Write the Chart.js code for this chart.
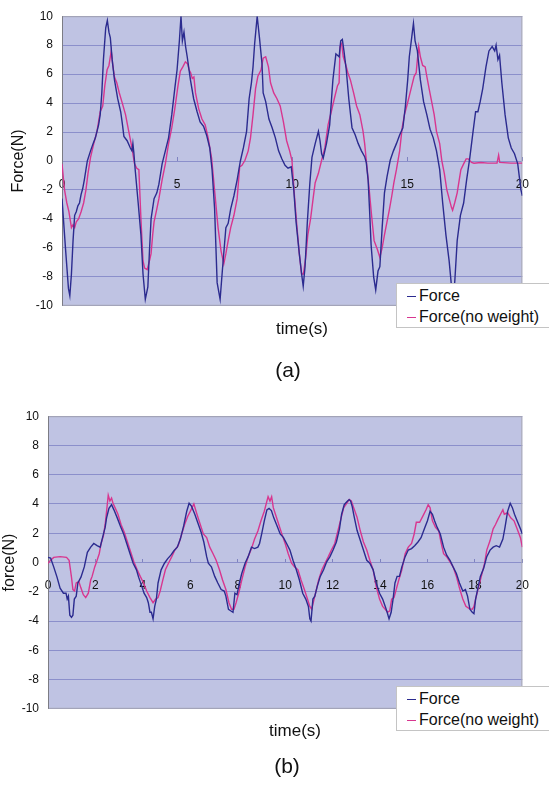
<!DOCTYPE html>
<html>
<head>
<meta charset="utf-8">
<script src="https://cdn.jsdelivr.net/npm/chart.js@4/dist/chart.umd.min.js"></script>
<style>
  body { margin: 0; background: #fff; width: 549px; height: 785px; position: relative; overflow: hidden;
         font-family: "Liberation Sans", Arial, sans-serif; color: #111; }
  canvas { position: absolute; left: 0; }
  #ca { top: 0; }
  #cb { top: 400px; }
  .legend { position: absolute; left: 396px; width: 152px; background: #fff; border: 1px solid #c4c4c4;
            font-size: 16px; padding-top: 1px; }
  .legend div { height: 21px; line-height: 21px; white-space: nowrap; }
  .legend span { display: inline-block; width: 9px; height: 0; border-top: 1.5px solid; vertical-align: middle;
                 margin: 0 3px 0 10px; }
  .lbl { position: absolute; transform: translate(-50%, -50%); white-space: nowrap; }
</style>
</head>
<body>
<canvas id="ca" width="549" height="322"></canvas>
<canvas id="cb" width="549" height="325"></canvas>

<div class="legend" style="top:283px">
  <div><span style="border-color:#2b2b8f"></span>Force</div>
  <div><span style="border-color:#d8368f"></span>Force(no weight)</div>
</div>
<div class="legend" style="top:686px">
  <div><span style="border-color:#2b2b8f"></span>Force</div>
  <div><span style="border-color:#d8368f"></span>Force(no weight)</div>
</div>

<div class="lbl" style="left:302px;top:329px;font-size:17px">time(s)</div>
<div class="lbl" style="left:288px;top:370px;font-size:21px">(a)</div>
<div class="lbl" style="left:295px;top:731px;font-size:17px">time(s)</div>
<div class="lbl" style="left:287px;top:766px;font-size:21px">(b)</div>

<script>
// (a) time (s), force (N)
const aForce = [[0,-2.6],[0.15,-6.0],[0.28,-8.8],[0.34,-9.3],[0.41,-7.8],[0.48,-5.5],[0.55,-3.75],[0.62,-3.5],
  [0.69,-3.1],[0.76,-2.9],[0.83,-2.3],[0.9,-1.9],[0.97,-1.3],[1.1,0],[1.24,0.7],[1.35,1.2],[1.45,1.6],[1.59,2.5],
  [1.66,3.2],[1.73,4.7],[1.8,7.0],[1.9,9.2],[1.97,9.7],[2.04,8.9],[2.1,8.5],[2.18,7.0],[2.28,5.6],[2.42,4.3],
  [2.55,3.4],[2.62,2.6],[2.69,1.7],[2.83,1.4],[2.97,0.9],[3.04,0.7],[3.08,1.2],[3.12,0.6],[3.18,-0.6],[3.31,-2.9],
  [3.43,-5.1],[3.52,-7.8],[3.62,-9.55],[3.73,-8.7],[3.8,-6.2],[3.87,-4.0],[4.0,-2.6],[4.12,-2.2],[4.21,-1.6],
  [4.35,-0.2],[4.49,0.7],[4.63,1.6],[4.77,3.2],[4.9,5.0],[5.0,6.3],[5.1,8.3],[5.17,10],[5.23,8.3],[5.3,8.9],
  [5.37,7.9],[5.44,7.2],[5.58,5.6],[5.72,4.3],[5.87,3.4],[6.0,2.7],[6.15,2.4],[6.28,1.8],[6.42,0.9],[6.52,-0.6],
  [6.63,-3.3],[6.74,-8.4],[6.87,-9.55],[6.98,-7.3],[7.12,-4.6],[7.22,-4.3],[7.33,-3.3],[7.47,-2.4],[7.61,-1.3],
  [7.75,0],[7.88,0.9],[8.02,2.05],[8.13,4.3],[8.23,5.4],[8.3,6.5],[8.37,8.1],[8.48,10],[8.58,8.5],[8.69,6.7],
  [8.74,4.7],[8.85,4.1],[8.99,2.9],[9.13,2.3],[9.27,1.6],[9.41,0.7],[9.55,0.15],[9.69,-0.3],[9.82,-0.5],[9.96,-0.4],
  [10.07,-2.0],[10.17,-4.2],[10.31,-6.4],[10.41,-7.8],[10.48,-8.65],[10.56,-7.3],[10.66,-4.2],[10.77,-1.5],
  [10.86,0.25],[11.0,1.2],[11.14,2.05],[11.21,1.4],[11.28,0.5],[11.35,0.2],[11.49,1.2],[11.63,2.5],[11.77,5.6],
  [11.9,7.4],[12.04,7.2],[12.11,8.3],[12.18,8.4],[12.25,7.6],[12.35,6.3],[12.46,4.3],[12.6,2.3],[12.74,1.8],
  [12.87,1.2],[13.01,0.7],[13.15,0.3],[13.22,-0.1],[13.3,-1.3],[13.36,-3.3],[13.43,-5.8],[13.54,-8.0],[13.63,-8.9],
  [13.73,-7.6],[13.81,-7.3],[13.91,-4.6],[14.01,-2.2],[14.12,-1.1],[14.26,0.05],[14.4,0.7],[14.53,1.2],[14.67,1.8],
  [14.81,2.3],[14.92,3.8],[15.02,5.6],[15.09,7.2],[15.16,8.1],[15.23,9.0],[15.27,9.5],[15.34,8.3],[15.44,7.6],
  [15.57,5.6],[15.71,4.1],[15.85,3.2],[15.99,2.2],[16.13,1.6],[16.27,0.7],[16.41,-0.6],[16.54,-2.9],[16.68,-5.1],
  [16.82,-6.9],[16.96,-9.3],[17.0,-9.6],[17.07,-8.2],[17.17,-5.5],[17.31,-3.75],[17.45,-2.9],[17.58,-1.3],
  [17.72,0.25],[17.86,2.05],[17.97,3.4],[18.07,3.4],[18.17,4.1],[18.28,5.0],[18.42,6.5],[18.55,7.6],[18.69,7.9],
  [18.8,7.6],[18.86,8.0],[18.94,7.0],[19.01,7.3],[19.11,5.4],[19.25,3.2],[19.39,1.6],[19.52,0.9],[19.66,0.5],
  [19.8,-0.2],[19.94,-2.0],[20,-2.4]];

const aNoWeight = [[0,-0.2],[0.11,-2.0],[0.21,-2.9],[0.3,-3.5],[0.41,-4.6],[0.48,-4.4],[0.55,-4.6],[0.62,-4.2],
  [0.72,-4.0],[0.83,-3.5],[0.94,-2.9],[1.04,-2.0],[1.13,-0.85],[1.24,0.25],[1.38,1.2],[1.52,2.05],[1.66,3.4],
  [1.77,3.8],[1.86,5.2],[1.96,6.3],[2.04,6.6],[2.14,7.6],[2.2,6.7],[2.28,5.8],[2.38,5.4],[2.49,4.7],[2.62,4.0],
  [2.76,3.2],[2.9,2.05],[3.04,0.9],[3.15,-0.2],[3.25,-0.5],[3.34,-0.6],[3.43,-4.0],[3.52,-6.9],[3.59,-7.4],
  [3.7,-7.5],[3.8,-6.9],[3.87,-6.4],[3.94,-5.1],[4.0,-4.2],[4.12,-3.3],[4.21,-2.6],[4.35,-1.3],[4.49,-0.2],
  [4.63,1.2],[4.77,2.3],[4.9,3.6],[5.04,5.2],[5.14,6.2],[5.25,6.5],[5.36,6.85],[5.46,6.7],[5.52,6.3],[5.59,6.1],
  [5.66,5.7],[5.73,5.8],[5.8,4.7],[5.94,3.6],[6.08,2.9],[6.22,2.5],[6.35,1.6],[6.5,0.2],[6.64,-2.2],[6.78,-4.6],
  [6.91,-6.2],[7.03,-7.1],[7.12,-6.4],[7.22,-5.5],[7.33,-4.6],[7.47,-3.75],[7.61,-2.6],[7.72,-0.4],[7.82,-0.3],
  [7.95,0.05],[8.09,0.7],[8.19,1.6],[8.3,3.2],[8.41,5.0],[8.51,5.85],[8.65,6.3],[8.74,7.1],[8.85,7.2],[8.97,6.5],
  [9.06,5.4],[9.2,4.7],[9.34,4.3],[9.48,3.8],[9.62,2.7],[9.76,1.4],[9.89,0.7],[9.99,0.05],[10.1,-2.4],[10.21,-4.6],
  [10.31,-6.4],[10.41,-7.8],[10.49,-7.8],[10.59,-6.65],[10.68,-5.1],[10.8,-4.0],[10.91,-2.6],[11.0,-1.5],
  [11.14,-0.85],[11.28,0.05],[11.42,0.9],[11.56,2.5],[11.7,3.4],[11.83,4.3],[11.97,5.2],[12.04,5.4],[12.08,7.9],
  [12.15,8.1],[12.22,7.2],[12.32,6.7],[12.42,6.1],[12.53,5.6],[12.67,4.7],[12.8,3.8],[12.94,3.2],[13.08,2.05],
  [13.15,1.2],[13.26,-0.6],[13.36,-2.2],[13.45,-3.75],[13.56,-5.5],[13.7,-6.1],[13.81,-6.65],[13.91,-6.0],
  [14.01,-5.1],[14.12,-4.2],[14.23,-3.3],[14.33,-2.4],[14.42,-1.5],[14.53,-0.6],[14.67,0.7],[14.78,2.3],
  [14.88,3.2],[14.98,3.8],[15.09,4.5],[15.2,5.2],[15.3,5.85],[15.39,6.1],[15.44,7.0],[15.5,7.9],[15.57,7.2],
  [15.67,6.6],[15.78,6.5],[15.85,5.85],[15.95,5.0],[16.06,4.1],[16.17,3.2],[16.27,2.05],[16.41,1.2],[16.5,0.05],
  [16.61,-0.85],[16.72,-2.0],[16.82,-2.6],[16.92,-3.2],[16.97,-3.4],[17.06,-2.9],[17.17,-2.2],[17.24,-1.5],
  [17.33,-0.6],[17.45,-0.2],[17.56,0.15],[17.65,0.15],[17.79,-0.1],[17.9,-0.15],[18.2,-0.1],[18.5,-0.15],
  [18.9,-0.15],[18.97,0.4],[19.02,-0.1],[19.5,-0.15],[20,-0.15]];

// (b)
const bForce = [[0,0.35],[0.11,0.3],[0.24,-0.3],[0.38,-1.0],[0.51,-1.75],[0.65,-2.1],[0.76,-2.1],[0.81,-2.5],
  [0.86,-2.3],[0.92,-3.6],[0.99,-3.75],[1.05,-3.6],[1.11,-2.5],[1.19,-2.3],[1.26,-1.4],[1.39,-1.0],[1.53,-0.3],
  [1.66,0.7],[1.8,1.05],[1.93,1.3],[2.07,1.15],[2.2,1.05],[2.3,1.7],[2.41,2.4],[2.47,3.05],[2.57,3.7],[2.68,3.95],
  [2.78,3.6],[2.92,3.05],[3.05,2.5],[3.19,1.95],[3.32,1.3],[3.46,0.6],[3.59,-0.05],[3.73,-0.5],[3.82,-1.0],
  [3.96,-1.65],[4.05,-2.1],[4.16,-2.4],[4.23,-2.75],[4.3,-3.4],[4.36,-3.4],[4.43,-3.85],[4.5,-3.0],[4.57,-2.5],
  [4.64,-1.4],[4.77,-0.5],[4.91,-0.05],[5.04,0.25],[5.18,0.5],[5.31,0.8],[5.45,1.05],[5.58,1.6],[5.72,2.5],
  [5.85,3.5],[5.95,4.05],[6.05,3.85],[6.19,3.3],[6.32,2.7],[6.46,2.05],[6.57,1.4],[6.69,0.4],[6.76,-0.05],
  [6.89,-0.3],[7.03,-0.95],[7.16,-1.4],[7.3,-1.85],[7.43,-1.95],[7.5,-2.3],[7.61,-3.2],[7.7,-3.3],[7.8,-3.4],
  [7.88,-2.1],[7.97,-2.2],[8.07,-1.4],[8.17,-0.75],[8.31,-0.05],[8.44,0.4],[8.58,1.05],[8.71,0.95],[8.85,1.05],
  [8.92,1.3],[9.01,1.95],[9.12,2.85],[9.23,3.6],[9.32,3.7],[9.42,3.55],[9.52,3.05],[9.66,2.5],[9.79,1.95],
  [9.93,1.7],[10.06,1.3],[10.2,0.85],[10.33,0.15],[10.47,-0.5],[10.6,-1.2],[10.74,-2.1],[10.87,-2.5],[10.98,-3.0],
  [11.04,-3.85],[11.09,-4.0],[11.17,-2.5],[11.25,-2.3],[11.35,-1.65],[11.48,-0.95],[11.62,-0.5],[11.75,0.05],
  [11.89,0.4],[12.02,0.85],[12.16,1.4],[12.29,2.3],[12.38,3.3],[12.49,3.95],[12.63,4.2],[12.7,4.3],[12.76,4.2],
  [12.83,3.8],[12.9,3.2],[13.03,2.2],[13.17,1.5],[13.3,0.85],[13.44,0.15],[13.57,-0.05],[13.71,-0.5],[13.84,-1.4],
  [13.98,-2.1],[14.11,-2.5],[14.22,-3.0],[14.3,-3.4],[14.38,-3.85],[14.47,-3.4],[14.55,-2.5],[14.63,-1.4],
  [14.72,-0.95],[14.82,-0.95],[14.92,-0.3],[15.06,0.4],[15.19,0.85],[15.33,0.95],[15.46,1.15],[15.6,1.4],
  [15.73,1.7],[15.87,2.3],[16.0,2.85],[16.11,3.5],[16.21,3.3],[16.3,2.85],[16.41,2.4],[16.54,1.95],[16.68,1.05],
  [16.81,0.5],[16.95,0.15],[17.08,-0.3],[17.22,-0.75],[17.35,-1.4],[17.49,-1.95],[17.6,-1.85],[17.69,-2.3],
  [17.79,-3.2],[17.89,-3.4],[17.96,-3.5],[18.03,-2.5],[18.14,-1.65],[18.23,-0.95],[18.37,-0.4],[18.5,0.4],
  [18.64,0.85],[18.77,1.05],[18.9,1.15],[19.04,1.05],[19.18,1.6],[19.27,2.4],[19.38,3.5],[19.49,4.05],[19.58,3.75],
  [19.67,3.3],[19.78,2.85],[19.92,2.3],[20,1.95]];

const bNoWeight = [[0,-0.05],[0.11,0.15],[0.24,0.35],[0.51,0.4],[0.78,0.35],[0.89,0.15],[0.99,-1.0],[1.05,-1.85],
  [1.12,-1.95],[1.19,-1.4],[1.3,-1.3],[1.39,-1.75],[1.49,-2.2],[1.59,-2.4],[1.7,-2.1],[1.8,-1.2],[1.86,-0.95],
  [1.97,-0.3],[2.07,0.15],[2.16,0.6],[2.24,1.3],[2.34,1.85],[2.41,2.6],[2.47,3.5],[2.54,4.6],[2.61,4.2],[2.68,4.4],
  [2.74,4.05],[2.84,3.7],[2.95,3.3],[3.08,2.6],[3.22,2.05],[3.35,1.4],[3.49,0.7],[3.62,0.05],[3.76,-0.5],
  [3.89,-0.95],[4.03,-1.4],[4.16,-1.95],[4.3,-2.4],[4.43,-2.75],[4.54,-2.5],[4.64,-2.4],[4.73,-1.95],[4.84,-1.2],
  [4.95,-0.5],[5.08,-0.05],[5.22,0.4],[5.35,0.85],[5.49,1.15],[5.62,1.85],[5.76,2.6],[5.89,3.15],[6.03,3.6],
  [6.15,4.0],[6.28,3.3],[6.42,2.6],[6.55,1.95],[6.69,1.7],[6.82,1.05],[6.96,0.6],[7.09,0.15],[7.23,-0.5],
  [7.36,-1.2],[7.5,-1.85],[7.63,-2.75],[7.74,-3.2],[7.84,-3.2],[7.93,-2.75],[8.04,-2.1],[8.17,-1.2],[8.31,-0.3],
  [8.44,0.4],[8.58,0.95],[8.71,1.6],[8.85,2.15],[8.98,2.85],[9.12,3.5],[9.23,4.2],[9.28,4.5],[9.36,4.2],[9.43,4.5],
  [9.5,3.75],[9.59,3.3],[9.73,2.6],[9.86,1.95],[10.0,1.3],[10.13,0.6],[10.27,-0.05],[10.4,-0.3],[10.54,-0.5],
  [10.67,-1.2],[10.81,-1.85],[10.94,-2.5],[11.04,-3.0],[11.12,-3.2],[11.17,-2.85],[11.28,-2.1],[11.41,-1.2],
  [11.55,-0.5],[11.68,-0.05],[11.82,0.4],[11.95,0.85],[12.09,1.3],[12.22,2.15],[12.36,3.05],[12.47,3.75],
  [12.56,3.95],[12.7,4.3],[12.79,4.2],[12.9,3.7],[13.03,3.1],[13.17,2.15],[13.3,1.4],[13.44,0.85],[13.57,0.15],
  [13.71,-0.5],[13.84,-1.65],[13.98,-2.5],[14.11,-3.0],[14.22,-3.2],[14.32,-3.4],[14.41,-3.3],[14.49,-2.5],
  [14.59,-2.4],[14.68,-1.85],[14.79,-1.2],[14.92,-0.5],[15.06,0.6],[15.19,1.05],[15.33,1.3],[15.44,1.95],
  [15.53,2.75],[15.67,2.75],[15.8,3.15],[15.94,3.6],[16.03,3.95],[16.11,3.75],[16.21,2.85],[16.34,2.4],
  [16.48,2.15],[16.57,1.4],[16.68,0.6],[16.81,0.4],[16.95,0.05],[17.08,-0.3],[17.22,-0.95],[17.35,-1.75],
  [17.49,-2.5],[17.62,-3.0],[17.76,-3.15],[17.89,-3.2],[17.96,-3.0],[18.03,-2.5],[18.16,-1.65],[18.3,-0.75],
  [18.41,-0.05],[18.5,0.85],[18.64,1.5],[18.77,2.3],[18.87,2.6],[18.97,2.95],[19.08,3.3],[19.18,3.6],[19.24,3.3],
  [19.38,3.4],[19.51,3.05],[19.65,2.85],[19.78,2.3],[19.92,1.7],[20,1.05]];

const seriesNames = ["Force", "Force(no weight)"];
const yTicksMin = -10, yTicksMax = 10;

// 背景とプロット枠
const plotFrame = {
  id: "plotFrame",
  beforeDraw(chart) {
    const { ctx, chartArea: a } = chart;
    ctx.save();
    ctx.fillStyle = "#bfc3e3";
    ctx.fillRect(a.left, a.top, a.width, a.height);
    ctx.restore();
  },
  beforeDatasetsDraw(chart) {
    const { ctx, chartArea: a } = chart;
    ctx.save();
    ctx.lineWidth = 1;
    ctx.strokeStyle = "#a9a9b4";
    ctx.strokeRect(a.left + 0.5, a.top + 0.5, a.width - 1, a.height - 1);
    ctx.strokeStyle = "#7c7c84";
    ctx.beginPath();
    ctx.moveTo(a.left + 0.5, a.top);
    ctx.lineTo(a.left + 0.5, a.bottom);
    ctx.stroke();
    ctx.restore();
  }
};

function makeChart(id, force, noWeight, xStep, yTitle, titlePad, yWidth, padding) {
  const toXY = (arr) => arr.map((p) => ({ x: p[0], y: p[1] }));
  return new Chart(document.getElementById(id), {
    type: "line",
    data: {
      datasets: [
        { label: seriesNames[0], data: toXY(force), borderColor: "#2b2b8f", borderWidth: 1.4,
          pointRadius: 0, tension: 0 },
        { label: seriesNames[1], data: toXY(noWeight), borderColor: "#d8368f", borderWidth: 1.4,
          pointRadius: 0, tension: 0 }
      ]
    },
    options: {
      responsive: false,
      animation: false,
      devicePixelRatio: 1,
      layout: { padding: padding },
      plugins: { legend: { display: false }, tooltip: { enabled: false } },
      scales: {
        x: {
          type: "linear",
          min: 0,
          max: 20,
          position: { y: 0 },
          ticks: { stepSize: xStep, padding: 20, maxRotation: 0, autoSkip: false, color: "#111",
                   font: { family: "Liberation Sans", size: 12 } },
          grid: { drawOnChartArea: false, drawTicks: true, tickLength: -4, color: "#7f83c0" },
          border: { display: false }
        },
        y: {
          min: yTicksMin,
          max: yTicksMax,
          ticks: { stepSize: 2, padding: 9, color: "#111", font: { family: "Liberation Sans", size: 12 } },
          grid: { color: "#8b8fcb", drawTicks: false },
          border: { display: false },
          title: { display: true, text: yTitle, color: "#111",
                   font: { family: "Liberation Sans", size: 16 }, padding: { top: titlePad, bottom: 0 } },
          afterFit(scale) { scale.width = yWidth; }
        }
      }
    },
    plugins: [plotFrame]
  });
}

makeChart("ca", aForce, aNoWeight, 5, "Force(N)", 9, 62, { left: 0, top: 13, right: 6, bottom: 10 });
makeChart("cb", bForce, bNoWeight, 2, "force(N)", 0, 48, { left: 0, top: 16, right: 7, bottom: 11 });
</script>
</body>
</html>
